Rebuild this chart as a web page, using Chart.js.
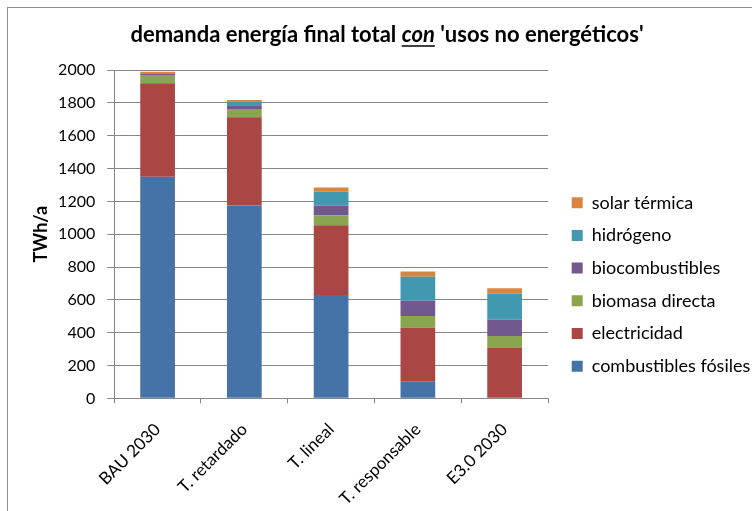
<!DOCTYPE html>
<html>
<head>
<meta charset="utf-8">
<title>demanda energía final total</title>
<script src="https://cdn.jsdelivr.net/npm/chart.js@4/dist/chart.umd.min.js"></script>
<style>
    html, body { margin: 0; padding: 0; background: #fff; }
    #wrap { width: 752px; height: 511px; position: relative; }
</style>
</head>
<body>
<div id="wrap"><canvas id="demandChart"></canvas></div>
<script>
// --- Data (TWh/a) ---
const scenarios = ['BAU 2030', 'T. retardado', 'T. lineal', 'T. responsable', 'E3.0 2030'];
const combustiblesFosiles = [1350, 1175, 630, 104, 0];
const electricidad = [570, 537, 425, 326, 307];
const biomasaDirecta = [50, 50, 61, 72, 73];
const biocombustibles = [8, 23, 59, 93, 101];
const hidrogeno = [2, 24, 85, 146, 157];
const solarTermica = [10, 8, 25, 31, 32];
const yTicks = [0, 200, 400, 600, 800, 1000, 1200, 1400, 1600, 1800, 2000];

const gridGray = '#878787';
Chart.defaults.font.family = 'Lato';
Chart.defaults.color = '#000';

// Title with an italic, underlined "con" in the middle
const titleParts = [
    { text: 'demanda energía final total ', italic: false, underline: false },
    { text: 'con', italic: true, underline: true },
    { text: " 'usos no energéticos'", italic: false, underline: false }
];

const mixedTitle = {
    id: 'mixedTitle',
    afterDraw(chart) {
        const ctx = chart.ctx;
        const size = 22;
        const fontFor = p => (p.italic ? 'italic ' : '') + 'bold ' + size + 'px Lato';
        ctx.save();
        let total = 0;
        titleParts.forEach(p => { ctx.font = fontFor(p); total += ctx.measureText(p.text).width; });
        let x = 387 - total / 2;
        const y = 42;
        ctx.fillStyle = '#000';
        ctx.strokeStyle = '#000';
        ctx.textBaseline = 'alphabetic';
        titleParts.forEach(p => {
            ctx.font = fontFor(p);
            const w = ctx.measureText(p.text).width;
            ctx.fillText(p.text, x, y);
            if (p.underline) {
                ctx.lineWidth = 1.5;
                ctx.beginPath();
                ctx.moveTo(x, y + 4);
                ctx.lineTo(x + w, y + 4);
                ctx.stroke();
            }
            x += w;
        });
        ctx.restore();
    }
};

// White background and the thin outer frame
const frame = {
    id: 'frame',
    beforeDraw(chart) {
        const ctx = chart.ctx;
        ctx.save();
        ctx.fillStyle = '#fff';
        ctx.fillRect(0, 0, chart.width, chart.height);
        ctx.strokeStyle = '#8f8f8f';
        ctx.lineWidth = 1;
        ctx.strokeRect(7.5, 7.5, chart.width + 20, chart.height + 20);
        ctx.restore();
    }
};

const ctx = document.getElementById('demandChart').getContext('2d');
const demandChart = new Chart(ctx, {
    type: 'bar',
    data: {
        labels: scenarios,
        datasets: [
            { label: 'combustibles fósiles', data: combustiblesFosiles, backgroundColor: '#4572A7' },
            { label: 'electricidad', data: electricidad, backgroundColor: '#AA4643' },
            { label: 'biomasa directa', data: biomasaDirecta, backgroundColor: '#89A54E' },
            { label: 'biocombustibles', data: biocombustibles, backgroundColor: '#71588F' },
            { label: 'hidrógeno', data: hidrogeno, backgroundColor: '#4198AF' },
            { label: 'solar térmica', data: solarTermica, backgroundColor: '#DB843D' }
        ]
    },
    options: {
        responsive: true,
        maintainAspectRatio: false,
        animation: false,
        datasets: { bar: { barPercentage: 0.4, categoryPercentage: 1 } },
        layout: { padding: { top: 70, left: 30, right: 0, bottom: -14 } },
        plugins: {
            title: { display: false },
            tooltip: { enabled: false },
            legend: {
                position: 'right',
                align: 'start',
                fullSize: false,
                reverse: true,
                maxWidth: 195,
                // empty title only pushes the items down
                title: { display: true, text: '', font: { size: 12 }, padding: { top: 94.6, bottom: 0 } },
                labels: {
                    boxWidth: 11,
                    boxHeight: 11,
                    padding: 14.7,
                    color: '#000',
                    font: { size: 18 }
                }
            }
        },
        scales: {
            x: {
                stacked: true,
                grid: { drawOnChartArea: false, drawTicks: true, tickLength: 5, color: gridGray, offset: true },
                border: { color: gridGray },
                ticks: { minRotation: 45, maxRotation: 45, font: { size: 17 }, color: '#000', padding: 16 }
            },
            y: {
                stacked: true,
                min: 0,
                max: 2000,
                afterBuildTicks(scale) { scale.ticks = yTicks.map(v => ({ value: v })); },
                grid: { color: gridGray, tickLength: 7 },
                border: { color: gridGray },
                ticks: { font: { size: 16 }, color: '#000', padding: 12, callback: v => String(v) },
                title: { display: true, text: 'TWh/a', font: { size: 18, weight: 'bold' }, color: '#000', padding: { top: 0, bottom: -5.5 } }
            },
            // narrow spacer between the plot and the legend
            gap: {
                position: 'right',
                display: true,
                grid: { display: false },
                border: { display: false },
                ticks: { display: false },
                afterFit(scale) { scale.width = 9; }
            }
        }
    },
    plugins: [frame, mixedTitle]
});
</script>
</body>
</html>
